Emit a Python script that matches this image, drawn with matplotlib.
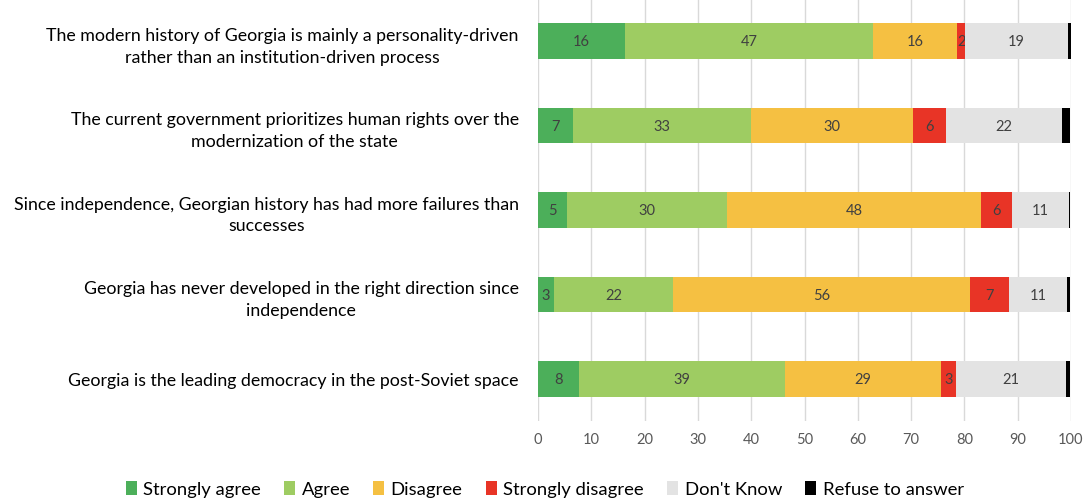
import matplotlib.pyplot as plt
import numpy as np

plt.rcParams['font.family'] = ['Lato', 'DejaVu Sans']

## données ##
statements = [
    'The modern history of Georgia is mainly a personality-driven\nrather than an institution-driven process',
    'The current government prioritizes human rights over the\nmodernization of the state',
    'Since independence, Georgian history has had more failures than\nsuccesses',
    'Georgia has never developed in the right direction since\nindependence',
    'Georgia is the leading democracy in the post-Soviet space',
]
answers = ['Strongly agree', 'Agree', 'Disagree', 'Strongly disagree', "Don't Know", 'Refuse to answer']
strongly_agree = [16.3, 6.6, 5.4, 3.0, 7.7]
agree = [46.6, 33.3, 30.1, 22.4, 38.7]
disagree = [15.7, 30.4, 47.6, 55.6, 29.2]
strongly_disagree = [1.6, 6.3, 5.8, 7.3, 2.8]
dont_know = [19.2, 21.8, 10.7, 11.0, 20.7]
refuse = [0.6, 1.5, 0.3, 0.6, 0.8]
colors = ['#4caf5a', '#9ecc62', '#f5c042', '#e83426', '#e3e3e3', '#000000']

series = [strongly_agree, agree, disagree, strongly_disagree, dont_know, refuse]

## structure ##
fig = plt.figure(figsize=(10.85, 5.02), dpi=100)
ax = fig.add_axes([0.496, 0.159, 0.491, 0.841])

y = np.arange(len(statements))
left = np.zeros(len(statements))
for name, vals, col in zip(answers, series, colors):
    vals = np.array(vals)
    bars = ax.barh(y, vals, left=left, height=0.42, color=col, label=name, zorder=3)
    if name != 'Refuse to answer':
        ax.bar_label(bars, labels=['%.0f' % v for v in vals], label_type='center',
                     color='#404040', fontsize=10.5)
    left += vals

ax.set_xlim(0, 100)
ax.set_ylim(len(statements) - 0.5, -0.5)
ax.set_xticks(range(0, 101, 10))
ax.set_yticks(y)
ax.set_yticklabels(statements, fontsize=12.8, ha='right', multialignment='center',
                   linespacing=1.45)
ax.tick_params(axis='y', length=0, pad=14)
ax.tick_params(axis='x', length=0, pad=8, labelcolor='#595959', labelsize=10.5)
ax.grid(axis='x', color='#d9d9d9', linewidth=1, zorder=0)
for s in ax.spines.values():
    s.set_visible(False)

fig.legend(loc='lower center', bbox_to_anchor=(0.502, -0.026), ncol=6, frameon=False,
           fontsize=13.3, handlelength=0.6, handleheight=0.8, handletextpad=0.35,
           columnspacing=1.25)

fig.savefig('out.png', dpi=100)
